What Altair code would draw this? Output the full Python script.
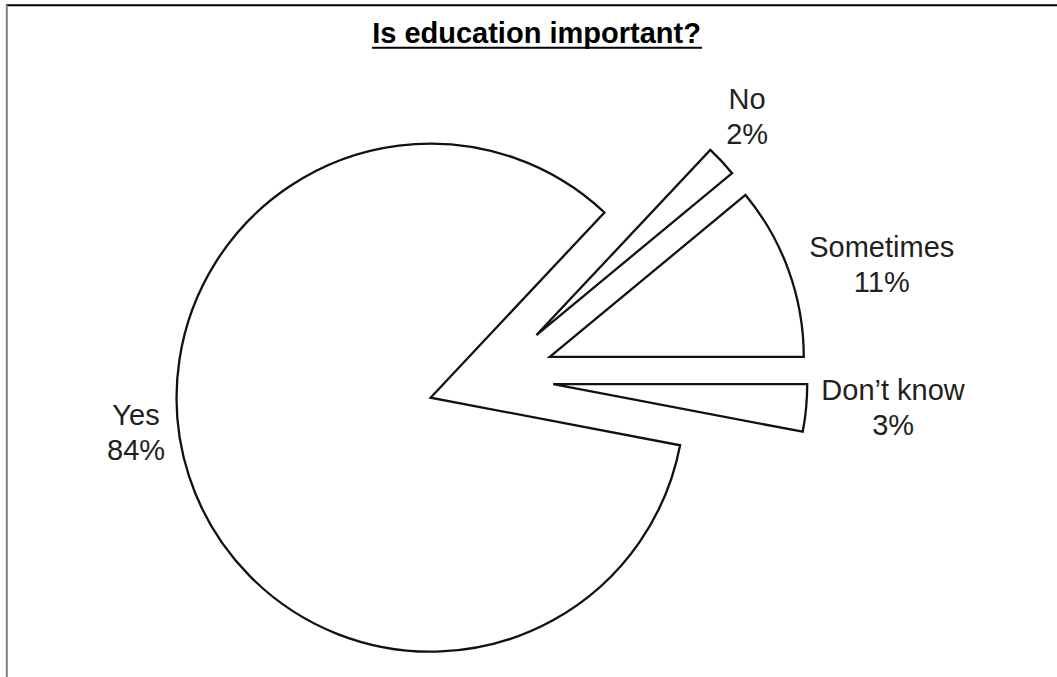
import math
import altair as alt
import pandas as pd

# ---------------- data ----------------
TITLE = "Is education important?"
categories = ["No", "Sometimes", "Don\u2019t know", "Yes"]
values = [2, 11, 3, 84]
pct_labels = ["2%", "11%", "3%", "84%"]

# ---------------- style ----------------
W, H = 1057, 677
CX, CY = 490.5, 378.2          # pie centre (before explosion)
R = 254                        # outer radius
EXPLODE = 63                   # explosion distance
FONT = "Liberation Sans"
FS = 29
LINE_GAP = 35
TEXT_COLOR = "#231f20"
# label nudges relative to each slice's outer arc midpoint
label_nudge = {
    "No": (25.5, -52),
    "Sometimes": (93, -14),
    "Don\u2019t know": (87, -8),
    "Yes": (-53, -51),
}
# rotate so that "Sometimes" ends at 3 o'clock
START = math.pi / 2 - 2 * math.pi * (values[0] + values[1]) / sum(values)

df = pd.DataFrame({
    "category": categories,
    "value": values,
    "pct": pct_labels,
    "idx": list(range(len(categories))),
    "ndx": [label_nudge[c][0] for c in categories],
    "ndy": [label_nudge[c][1] for c in categories],
})

base = (
    alt.Chart(df)
    .transform_window(cum="sum(value)", sort=[alt.SortField("idx")], frame=[None, 0])
    .transform_joinaggregate(total="sum(value)")
    .transform_calculate(t0=f"{START} + 2*PI*(datum.cum - datum.value)/datum.total")
    .transform_calculate(t1=f"{START} + 2*PI*datum.cum/datum.total")
    .transform_calculate(mid="(datum.t0 + datum.t1)/2")
    .transform_calculate(cx=f"{CX} + {EXPLODE}*sin(datum.mid)")
    .transform_calculate(cy=f"{CY} - {EXPLODE}*cos(datum.mid)")
    .transform_calculate(lx=f"datum.cx + {R}*sin(datum.mid) + datum.ndx")
    .transform_calculate(ly=f"datum.cy - {R}*cos(datum.mid) + datum.ndy")
)

arcs = base.mark_arc(
    radius=R, fill="white", stroke="#111111", strokeWidth=2.3, strokeJoin="miter"
).encode(
    x=alt.X("cx:Q", scale=None, axis=None),
    y=alt.Y("cy:Q", scale=None, axis=None),
    theta=alt.Theta("t0:Q", scale=None),
    theta2="t1:Q",
)

names = base.mark_text(
    font=FONT, fontSize=FS, align="center", baseline="alphabetic", color=TEXT_COLOR
).encode(
    x=alt.X("lx:Q", scale=None, axis=None),
    y=alt.Y("ly:Q", scale=None, axis=None),
    text="category:N",
)

pcts = base.mark_text(
    font=FONT, fontSize=FS, align="center", baseline="alphabetic", color=TEXT_COLOR, dy=LINE_GAP
).encode(
    x=alt.X("lx:Q", scale=None, axis=None),
    y=alt.Y("ly:Q", scale=None, axis=None),
    text="pct:N",
)

title_df = pd.DataFrame({"t": [TITLE]})
title = alt.Chart(title_df).mark_text(
    font=FONT, fontSize=FS, fontWeight="bold", align="center", baseline="alphabetic", color="black"
).encode(x=alt.value(536.5), y=alt.value(43.3), text="t:N")

underline = alt.Chart(title_df).mark_rule(color="black", strokeWidth=2).encode(
    x=alt.value(372), x2=alt.value(702), y=alt.value(47.7)
)

border_top = alt.Chart(title_df).mark_rule(color="black", strokeWidth=2).encode(
    x=alt.value(6), x2=alt.value(W), y=alt.value(5.3)
)
border_left = alt.Chart(title_df).mark_rule(color="#808080", strokeWidth=2).encode(
    x=alt.value(6.8), y=alt.value(5), y2=alt.value(H)
)

chart = (
    alt.layer(border_top, border_left, arcs, names, pcts, title, underline)
    .properties(width=W, height=H, padding=0, autosize="none", background="white")
    .configure_view(stroke=None)
)

chart.save("out.html", embed_options={"renderer": "svg", "actions": False})
